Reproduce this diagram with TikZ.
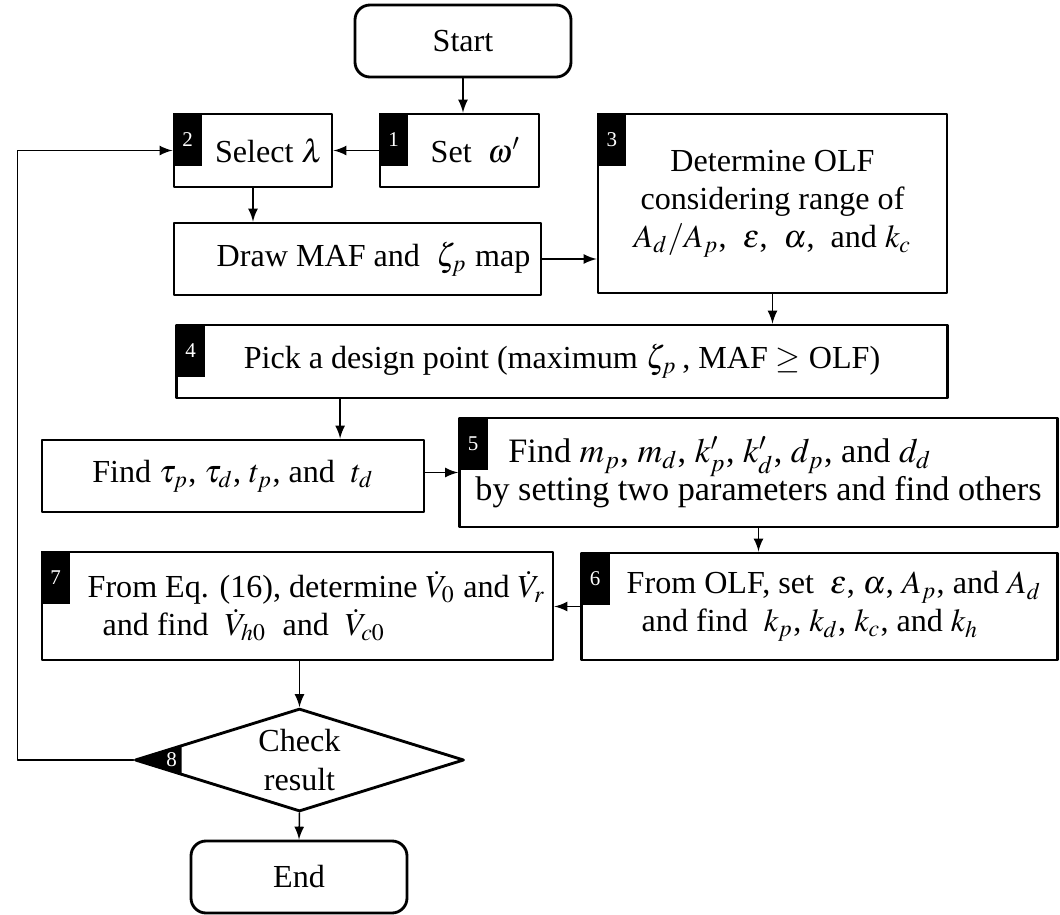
\documentclass[tikz,border=0pt]{standalone}
\usepackage{mathptmx}
\usepackage[no-math]{fontspec}
\setmainfont{Liberation Serif}
\usepackage{tikz}
\usetikzlibrary{arrows, shapes.geometric, positioning, calc}

\begin{document}
\begin{tikzpicture}[
  x=0.3333pt,
  y=-0.3333pt,
  line cap=round,
  line join=round,
  font=\fontsize{10.7}{12.7}\selectfont,
  box/.style={draw, line width=0.95pt, inner sep=2pt, align=center},
  term/.style={box, rounded corners=5pt},
  tag/.style={
    fill=black, text=white, inner sep=0pt, anchor=north west,
    minimum width=9.7pt, minimum height=17.7pt,
    font=\fontsize{7}{8}\selectfont
  },
  flow/.style={-latex, line width=0.5pt}
]
  \useasboundingbox (0,0) rectangle (1060,915);

  % Terminals
  \node[term, minimum width=72pt, minimum height=24pt]
    (start) at (463,41) {Start};
  \node[term, minimum width=72pt, minimum height=24pt]
    (end) at (299,877) {End};

  % Process boxes
  \node[box, minimum width=53pt, minimum height=24.3pt]
    (set) at (459.5,150.5) {\hspace*{10.7pt}Set\ \ $\omega'$};
  \node[box, minimum width=52.7pt, minimum height=24.3pt]
    (select) at (253,150.5) {\hspace*{10.7pt}Select $\lambda$};
  \node[box, minimum width=122.3pt, minimum height=24pt]
    (maf) at (357.5,259) {\hspace*{10.7pt}Draw MAF and \ $\zeta_p$ map};
  \node[box, minimum width=116.3pt, minimum height=59.7pt]
    (olf) at (772.5,203.5)
    {Determine OLF\\considering range of\\
     $A_d/A_p$, \ $\varepsilon$, \ $\alpha$, \ and $k_c$};
  \node[box, minimum width=256.7pt, minimum height=24.3pt]
    (pick) at (562,361.5)
    {Pick a design point (maximum $\zeta_p$\,, MAF $\geq$ OLF)};
  \node[box, minimum width=127.3pt, minimum height=24pt]
    (tau) at (233,476)
    {Find $\tau_p$, $\tau_d$, $t_p$, and \ $t_d$};
  \node[box, align=left, minimum width=199.3pt, minimum height=36.3pt,
    font=\fontsize{11.4}{12.7}\selectfont]
    (mass) at (758.5,472.5)
    {\hspace*{11pt}Find $m_p$, $m_d$, $k'_p$, $k'_d$, $d_p$, and $d_d$\\
     by setting two parameters and find others};
  \node[box, align=left, minimum width=158.7pt, minimum height=35.7pt]
    (stiff) at (819.5,606.5)
    {\hspace*{9.7pt}From OLF, set \ $\varepsilon$, $\alpha$, $A_p$, and $A_d$\\
     \hspace*{14.7pt}and find \ $k_p$, $k_d$, $k_c$, and $k_h$};
  \node[box, align=left, minimum width=170.3pt, minimum height=36pt]
    (vol) at (297.5,606)
    {\hspace*{12.7pt}From Eq. (16), determine $\dot V_0$ and $\dot V_r$\\
     \hspace*{17.7pt}and find \ $\dot V_{h0}$ \ and \ $\dot V_{c0}$};

  % Decision
  \node[draw, diamond, line width=0.95pt, aspect=3.2, inner sep=0pt,
    minimum width=109.7pt, minimum height=34.3pt, align=center]
    (check) at (299.5,760) {Check\\result};

  % Step numbers
  \node[tag] (n1) at (set.north west) {1};
  \node[tag] (n2) at (select.north west) {2};
  \node[tag] (n3) at (olf.north west) {3};
  \node[tag] (n4) at (pick.north west) {4};
  \node[tag] (n5) at (mass.north west) {5};
  \node[tag] (n6) at (stiff.north west) {6};
  \node[tag] (n7) at (vol.north west) {7};
  \fill (check.west)
    -- ($(check.west)!0.29!(check.north)$)
    -- ($(check.west)!0.29!(check.south)$) -- cycle;
  \node[text=white, inner sep=0pt, font=\fontsize{7}{8}\selectfont]
    (n8) at ([xshift=12.7pt]check.west) {8};

  % Connectors
  \draw[flow] (start.south) -- (start.south |- set.north);
  \draw[flow] (set.west) -- (select.east);
  \draw[flow] (select.south) -- (select.south |- maf.north);
  \draw[flow] (maf.east) -- (maf.east -| olf.west);
  \draw[flow] (olf.south) -- (olf.south |- pick.north);
  \draw[flow] ([xshift=35.7pt]tau.north |- pick.south) -- ([xshift=35.7pt]tau.north);
  \draw[flow] (mass.west -| tau.east) -- (mass.west);
  \draw[flow] (mass.south) -- (mass.south |- stiff.north);
  \draw[flow] (stiff.west) -- (stiff.west -| vol.east);
  \draw[flow] (vol.south -| check.north) -- (check.north);
  \draw[flow] (check.south) -- (end.north);

  % Feedback loop
  \draw[flow] (check.west) -- ++(-116,0) |- (select.west);
\end{tikzpicture}
\end{document}
